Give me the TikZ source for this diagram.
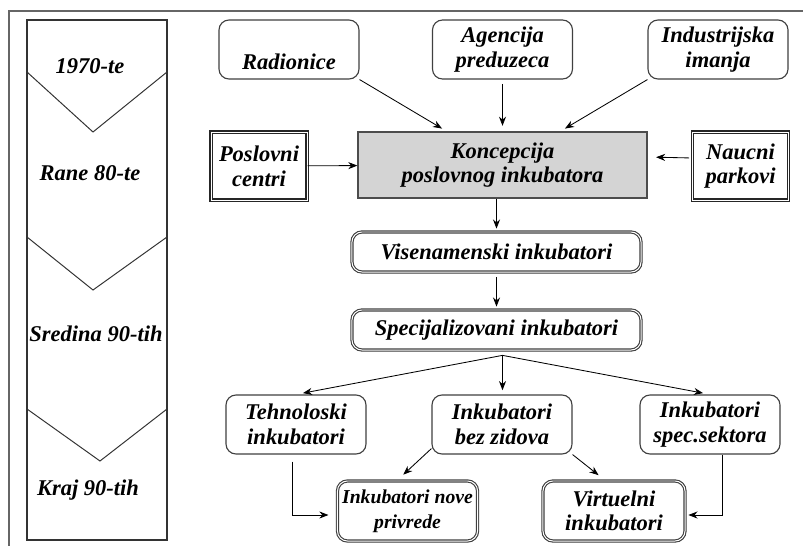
\documentclass[tikz,border=0pt]{standalone}
\usepackage{fontspec}
\setmainfont{Liberation Serif}
\usetikzlibrary{positioning, arrows, arrows.meta, calc, shadows}

\begin{document}
\begin{tikzpicture}[>={Stealth[length=6.5pt, width=5pt]}, x=0.025cm, y=-0.025cm,
		every node/.style={font=\fontsize{16}{17.5}\selectfont\bfseries\itshape, align=center},
		rbox/.style={draw=black!75, line width=0.8pt, fill=white, rounded corners=0.25cm, minimum width=3.5cm, minimum height=1.475cm},
		sbox/.style={rbox, double=white, double distance=0.7pt, drop shadow={shadow xshift=0.8pt, shadow yshift=-0.8pt, fill=black!60}},
		qbox/.style={draw=black!85, line width=0.8pt, fill=white, double=white, double distance=0.6pt, minimum width=2.4cm, minimum height=1.7cm, drop shadow={shadow xshift=1pt, shadow yshift=-1pt, fill=black!70}},
		link/.style={->, line width=0.6pt}]
		\useasboundingbox (0,0) rectangle (803,546);
		% frame and time line
		\draw[black!60, line width=1.3pt] (803,11) -- (9,11) -- (9,546);
		\draw[black!80, line width=0.8pt] (27,20) rectangle (167,540);
		\draw[black!80, line width=0.7pt] (27,72) -- (93,132) -- (167,72);
		\draw[black!80, line width=0.7pt] (27,237) -- (93,290) -- (167,237);
		\draw[black!80, line width=0.7pt] (27,409) -- (100,461) -- (167,409);
		\node (era1) at (90,66) {1970-te};
		\node (era2) at (90,173) {Rane 80-te};
		\node (era3) at (96,334) {Sredina 90-tih};
		\node (era4) at (88,490) {Kraj 90-tih};
		% sources
		\node[rbox] (radionice) at (289,49.5) {\phantom{X}\\Radionice};
		\node[rbox] (agencija) at (502.5,49.5) {Agencija\\preduzeca};
		\node[rbox] (imanja) at (718,49.5) {Industrijska\\imanja};
		\node[qbox] (centri) at (259,166) {Poslovni\\centri};
		\node[draw=black!70, line width=0.8pt, fill=black!17, minimum width=7.225cm, minimum height=1.65cm] (koncepcija) at (502.5,165) {Koncepcija\\poslovnog inkubatora};
		\node[qbox] (parkovi) at (740.5,166) {Naucni\\parkovi};
		% inkubatori
		\node[sbox, minimum width=7.225cm, minimum height=1cm] (visenamenski) at (496.5,252) {Visenamenski inkubatori};
		\node[sbox, minimum width=7.225cm, minimum height=1cm] (specijal) at (496.5,330) {Specijalizovani inkubatori};
		\node[rbox] (tehno) at (296,424.5) {Tehnoloski\\inkubatori};
		\node[rbox] (zidovi) at (502,424.5) {Inkubatori\\bez zidova};
		\node[rbox] (sektor) at (710,424.5) {Inkubatori\\spec.sektora};
		\node[sbox, minimum width=3.475cm, minimum height=1.5cm, font=\fontsize{14}{17.5}\selectfont\bfseries\itshape] (privreda) at (407.5,511) {Inkubatori nove\\privrede};
		\node[sbox, minimum width=3.55cm, minimum height=1.5cm] (virtuelni) at (614,511) {Virtuelni\\inkubatori};
		\coordinate (split) at ([xshift=0.15cm, yshift=-0.12cm]specijal.south);
		% connectors
		\draw[link, shorten >=4pt] (radionice.south east) -- ([xshift=-1.39cm]koncepcija.north);
		\draw[link, shorten <=3pt, shorten >=4pt] (agencija.south) -- (agencija.south |- koncepcija.north);
		\draw[link, shorten >=4pt] (imanja.south west) -- ([xshift=1.44cm]koncepcija.north);
		\draw[link] (centri) -- (koncepcija);
		\draw[link, shorten <=2pt, shorten >=6pt] ([yshift=0.2cm]parkovi.west) -- ([yshift=0.2cm]koncepcija.east);
		\draw[link, shorten >=2pt] (visenamenski.north |- koncepcija.south) -- (visenamenski.north);
		\draw[link, shorten <=3pt, shorten >=2pt] (visenamenski) -- (specijal);
		\draw[link, shorten >=5pt] (split) -- (tehno.north);
		\draw[link, shorten >=3pt] (split) -- (split |- zidovi.north);
		\draw[link, shorten >=5pt] (split) -- (sektor.north);
		\draw[link, shorten >=6pt] ([yshift=0.15cm]zidovi.south west) -- ([xshift=-0.26cm]privreda.north);
		\draw[link, shorten >=6pt] (zidovi.south east) -- ([xshift=-0.22cm]virtuelni.north);
		\draw[link, shorten <=5pt, shorten >=6pt] ([xshift=-0.1cm]tehno.south) |- ([yshift=-0.1cm]privreda.west);
		\draw[link, shorten >=2pt] ([xshift=0.3cm]sektor.south) |- ([yshift=-0.1cm]virtuelni.east);
	\end{tikzpicture}
\end{document}
